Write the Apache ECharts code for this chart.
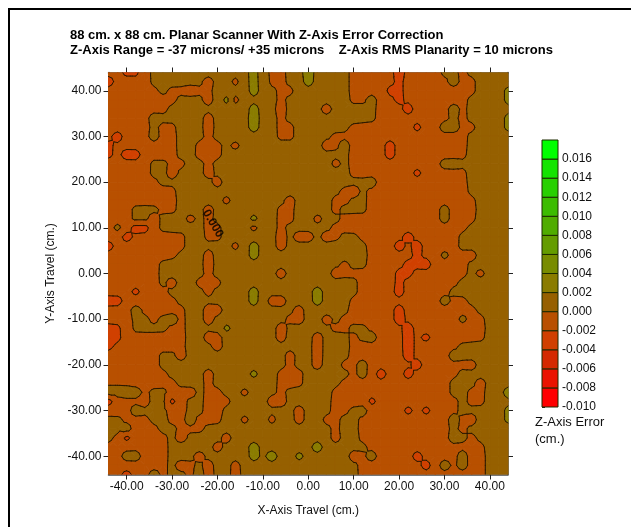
<!DOCTYPE html>
<html><head><meta charset="utf-8">
<script src="https://cdn.jsdelivr.net/npm/echarts@6/dist/echarts.min.js"></script>
<style>html,body{margin:0;padding:0;background:#fff}#c{width:631px;height:527px}</style>
</head><body><div id="c"></div>
<script>
// z error per surface point, cm; rows run from y = +44 down to y = -44, columns x = -44 to +44 (2 cm pitch)
const zKey = {'2':-0.003,'3':-0.001,'4':0.001,'5':0.003,'w':0.0005,'x':0.0025,'y':-0.0005,'z':-0.0025};
const zRows = [
"33223 44444 44444 45433 445 4444 33333 2 3333 w 4 3 44444",
"23333 44444 4344y 45433 445 4444 33333 2 33333 433 4444",
"3333334 33333 4444 5 44 33 44 4444 3333 22 33333333 444 5",
"33333333 444 3 4 x y 4444 3 444 4444 33 4 33 2 3333333 4444 5",
"3333333 444444444 x 44 3 444 4 3 44444 333 2 3333 4 3 44444",
"33333 444444 3 4444 5 44 3 444 4444444 33333333 4 3 4444 5",
"3333 3 4 33 444 3 4444 5 44 33 44 4444 3333333 z 33 44 33 444 5",
"3 z 333 4 33 444 3 4444444 33 44 44 333333333333333 44444",
"2 3333333 44 333 4 y 44444444 4 33 4 3333 2 33333333 44444",
"z3z23 333 44 333 4444444444 4444 3333 z 33333333 44444",
"33333 44 33 44 3 44444444444 44 y 4 3333333333 w 4 w 44444",
"33333 44 3 444 3 44444444444 4444 3333333 z 33333 44444",
"33333 3 444444 y 4444444444 4444444 3333333333 44444",
"33333333 444444444444444 444 33 4 33333333333 44444",
"33333333 44444 y 444444 y 44 44 33 4 w 333333333333 4444",
"333 444 33 444 y 4444444 33 44 44 3 w 44 33333333 w 333 4444",
"333 44 3 444 y 4 3 4444 x 44 33 44 y 44 33333333333 w 333 4444",
"3 w 3 2 z 3 44444 33 444 y 44 3 444 44 333333333333333 44444",
"33 z 333333 44 3 y 444444 y 4 33 4 33 44 33333 2 33333 444444",
"z 33333333 44444 y 4 5 44 3 444 444444 333 2 3 2 3333 444444",
"33333333 444 y 4444 x 444444 444444 33333 2 33 w 333 4444",
"333333 44444 3 44444444444 444 3 44 3333 222 3333 44444",
"333333 44444 3 4444444 3 444 44 3333333 22 333333 4 y 444",
"333333 4 3 44 333 4444444444 44444 3333 2 333333 444444",
"333 z 333 4444 3 4444 5 444444 5 4444 3333 z 33333 4444444",
"zz 333333 44444444 x 4 33 444 5 444 3333333333 w 33 44444",
"333 4 33333 44 33 44444444 y 4 4444 33333 2 33333333 4444",
"333 44 3 44 3 44 3 44444444 33 4 4 y 4 333 333 2 333333 w 33 444",
"22 3 4444 33 4444 x 44444 3 444 44 33 44 3333 2 33333333 444",
"22 3333333 44 33 444444 3 444 3 444 3 44 333 2 3 z 333333 444",
"2 33333 333 44 4 y 4444444444 3 444 333333 2 33333 444444",
"333333 44 3 44444444444 y 44 3 444 333333 2 3333 4444444",
"333333 44444444444444 3 44 y 44 33 4 33333 z 33333 y 4444",
"3333333 4444 3 4444 x 44 333 4 4444 3 w 3 2 33 z 33333 444444",
"yyy 33333 444 3 4444444 3 3 y 4 444 333333333333 444 y 444",
"4444 3 44 333 4 33 44 y 444 3 444 44 3333333333333 44 33 44 5",
"2 3333 44 z 3 44 333 4444 33 444 44 3333 z 333333333 4 33 444",
"333 4444 33 44 33 44444444 3 4 44 33 44 3333 z 3 z 333 44444 5",
"44 333 44 33 4 333 44 y 44 y 44 y 4 4 33 44 3333333333 4 33 444 x",
"444 333 44 333 444444444444 44 3 44 3333333333 4 y 44444",
"4 3 z 3333 4 y 4444 y 444444444 44 y 44 3333333333 44 3 4444",
"y 3 yy 333 44444 y 444 5 444444 5 44444 3333333333333 444",
"33 44 333 444 y 44444 x 4 5 44 x 4 4444 33 4 3333 z 3333 w 33 444",
"3333333 4 y 3 4 3 44 y 44444444 44444 3333333 z 3 4 3 4 33 444",
"33 z 33 4 3 44 3 4 3 44 y 44444444 44444 33333333333333 444"
];
const gridStart = -44, gridStep = 2;
const xTicks = [-40,-30,-20,-10,0,10,20,30,40];
const yTicks = [-40,-30,-20,-10,0,10,20,30,40];
const levels = [-0.010,-0.008,-0.006,-0.004,-0.002,0,0.002,0.004,0.006,0.008,0.010,0.012,0.014,0.016,0.018];
const bandColors = ['#ff0000','#ea1400','#d42a00','#d04000','#b85000','#966000','#8a7c00','#788c00','#649c00','#50ac00','#3cbc00','#28d000','#14e400','#00ff00'];
const titleLines = ['88 cm. x 88 cm. Planar Scanner With Z-Axis Error Correction','Z-Axis Range = -37 microns/ +35 microns    Z-Axis RMS Planarity = 10 microns'];
const contourLabel = {x:-21, y:10.9, text:'0.000'};

const rawGrid = zRows.map(r => r.replace(/\s/g,'').split('').map(c => zKey[c]));
const nRow = rawGrid.length, nCol = rawGrid[0].length;
function bandIndex(z){for(let b=0;b<levels.length-1;b++) if(z>=levels[b]&&z<levels[b+1]) return b; return 0;}
// the read values give each point's contour band; inside its band a point leans towards its neighbours so edges run straight
const rawAt=(i,j)=>rawGrid[Math.max(0,Math.min(nRow-1,i))][Math.max(0,Math.min(nCol-1,j))];
const zGrid = rawGrid.map((row,i)=>row.map((z,j)=>{
  const b=bandIndex(z); let same=0,s=4*z;
  for(let di=-1;di<=1;di++)for(let dj=-1;dj<=1;dj++){ if(!di&&!dj) continue;
    const n=rawAt(i+di,j+dj); s+=(di&&dj?1:2)*n; if(bandIndex(n)===b) same++; }
  if(same===0) return z;
  const m=same<=2?0.0008:(same<=4?0.0004:0.0001);
  return Math.min(levels[b+1]-m,Math.max(levels[b]+m,s/16));
}));
const cells = [];
for (let i=0;i<nRow-1;i++) for (let j=0;j<nCol-1;j++) cells.push([j,i]);

function cellTris(j,i){
  const X=k=>gridStart+gridStep*k, Y=k=>-gridStart-gridStep*k;
  const a=[X(j),Y(i),zGrid[i][j]], b=[X(j+1),Y(i),zGrid[i][j+1]],
        c=[X(j+1),Y(i+1),zGrid[i+1][j+1]], d=[X(j),Y(i+1),zGrid[i+1][j]];
  const m=[(a[0]+b[0])/2,(a[1]+d[1])/2,(a[2]+b[2]+c[2]+d[2])/4];
  return {corners:[a,b,c,d],tris:[[a,b,m],[b,c,m],[c,d,m],[d,a,m]]};
}
function clipAbove(poly,lv,keepAbove){
  const out=[];
  for(let k=0;k<poly.length;k++){
    const p=poly[k],q=poly[(k+1)%poly.length];
    const pin=keepAbove?p[2]>=lv:p[2]<=lv, qin=keepAbove?q[2]>=lv:q[2]<=lv;
    if(pin) out.push(p);
    if(pin!==qin){const t=(lv-p[2])/(q[2]-p[2]);out.push([p[0]+(q[0]-p[0])*t,p[1]+(q[1]-p[1])*t,lv]);}
  }
  return out;
}
function renderFill(params,api){
  const j=api.value(0),i=api.value(1),{corners,tris}=cellTris(j,i);
  const bs=corners.map(p=>bandIndex(p[2]));
  const children=[];
  const add=(poly,b)=>{ if(poly.length<3) return;
    children.push({type:'polygon',shape:{points:poly.map(p=>api.coord([p[0],p[1]]))},
      style:{fill:bandColors[b],stroke:bandColors[b],lineWidth:1}});};
  if(bs.every(b=>b===bs[0])){ add(corners,bs[0]); return {type:'group',children}; }
  const bmin=Math.min(...bs),bmax=Math.max(...bs);
  tris.forEach(t=>{ for(let b=bmin;b<=bmax;b++){
    add(clipAbove(clipAbove(t,levels[b],true),levels[b+1],false),b);
  }});
  return {type:'group',children};
}
function renderLines(params,api){
  const j=api.value(0),i=api.value(1),{tris}=cellTris(j,i);
  const children=[];
  tris.forEach(t=>{ levels.forEach(lv=>{
    const pts=[];
    for(let k=0;k<3;k++){const p=t[k],q=t[(k+1)%3];
      if((p[2]<lv)!==(q[2]<lv)){const u=(lv-p[2])/(q[2]-p[2]);pts.push([p[0]+(q[0]-p[0])*u,p[1]+(q[1]-p[1])*u]);}}
    if(pts.length===2){const A=api.coord(pts[0]),B=api.coord(pts[1]);
      children.push({type:'line',shape:{x1:A[0],y1:A[1],x2:B[0],y2:B[1]},style:{stroke:'#2a1600',lineWidth:1,lineCap:'round'}});}
  });});
  return {type:'group',children};
}
function renderLegend(params,api){
  const b=api.value(0),A=api.coord([0,levels[b]]),B=api.coord([1,levels[b+1]]);
  return {type:'rect',shape:{x:A[0],y:B[1],width:B[0]-A[0],height:A[1]-B[1]},
    style:{fill:bandColors[b],stroke:'#1c2a00',lineWidth:1}};
}
const FONT='"Liberation Sans", Arial, sans-serif', AX='#4a4a4a';
const chart=echarts.init(document.getElementById('c'),null,{renderer:'canvas'});
chart.setOption({
  animation:false,backgroundColor:'#fff',
  title:{text:titleLines.join('\n'),left:65,top:23,textStyle:{fontFamily:FONT,fontSize:13,fontWeight:'bold',color:'#000',lineHeight:15}},
  grid:[{left:108.5,top:72.5,width:399.5,height:402},{left:542,top:140,width:16,height:267}],
  xAxis:[
    {gridIndex:0,type:'value',min:-44,max:44,position:'bottom',name:'X-Axis Travel (cm.)',nameLocation:'middle',nameGap:30,
     nameTextStyle:{fontFamily:FONT,fontSize:12,color:'#111'},
     splitLine:{show:false},axisLine:{onZero:false,lineStyle:{color:AX,width:1.5}},
     axisTick:{customValues:xTicks,length:5,lineStyle:{color:'#222'}},
     axisLabel:{customValues:xTicks,formatter:v=>v.toFixed(2),fontFamily:FONT,fontSize:12,color:'#111',margin:6}},
    {gridIndex:0,type:'value',min:-44,max:44,position:'top',splitLine:{show:false},axisLabel:{show:false},
     axisLine:{onZero:false,lineStyle:{color:AX,width:1.5}},axisTick:{customValues:xTicks,length:5,lineStyle:{color:'#222'}}},
    {gridIndex:1,type:'value',min:0,max:1,show:false}
  ],
  yAxis:[
    {gridIndex:0,type:'value',min:-44,max:44,position:'left',name:'Y-Axis Travel (cm.)',nameLocation:'middle',nameGap:48,nameRotate:90,
     nameTextStyle:{fontFamily:FONT,fontSize:12,color:'#111'},
     splitLine:{show:false},axisLine:{onZero:false,lineStyle:{color:AX,width:1.5}},
     axisTick:{customValues:yTicks,length:5,lineStyle:{color:'#222'}},
     axisLabel:{customValues:yTicks,formatter:v=>v.toFixed(2),fontFamily:FONT,fontSize:12,color:'#111',margin:7}},
    {gridIndex:0,type:'value',min:-44,max:44,position:'right',splitLine:{show:false},axisLabel:{show:false},
     axisLine:{onZero:false,lineStyle:{color:AX,width:1.5}},axisTick:{customValues:yTicks,length:5,lineStyle:{color:'#222'}}},
    {gridIndex:1,type:'value',min:-0.010,max:0.018,position:'right',splitLine:{show:false},
     axisLine:{show:false},axisTick:{customValues:levels.slice(0,-1),length:3,lineStyle:{color:'#222'}},
     axisLabel:{customValues:levels.slice(0,-1),formatter:v=>v.toFixed(3),fontFamily:FONT,fontSize:12,color:'#111',margin:4}}
  ],
  series:[
    {type:'custom',xAxisIndex:0,yAxisIndex:0,coordinateSystem:'cartesian2d',clip:true,renderItem:renderFill,data:cells,encode:{x:0,y:1},silent:true,progressive:0,z:2},
    {type:'custom',xAxisIndex:0,yAxisIndex:0,coordinateSystem:'cartesian2d',clip:true,renderItem:renderLines,data:cells,encode:{x:0,y:1},silent:true,progressive:0,z:3},
    {type:'custom',xAxisIndex:2,yAxisIndex:2,coordinateSystem:'cartesian2d',renderItem:renderLegend,data:bandColors.map((c,b)=>[b]),encode:{x:[],y:[]},silent:true,z:2},
    {type:'scatter',xAxisIndex:0,yAxisIndex:0,symbolSize:0,data:[[contourLabel.x,contourLabel.y]],z:5,silent:true,
     label:{show:true,position:'inside',formatter:contourLabel.text,rotate:-60,fontFamily:FONT,fontSize:12,fontWeight:'bold',color:'#000'}}
  ],
  graphic:[
    {type:'polyline',shape:{points:[[9,540],[9,9],[640,9]]},style:{stroke:'#000',lineWidth:2,fill:null},silent:true},
    {type:'text',left:535,top:414,style:{text:'Z-Axis Error\n(cm.)',font:'13px '+FONT,fill:'#111',lineHeight:17}}
  ]
});
</script></body></html>
